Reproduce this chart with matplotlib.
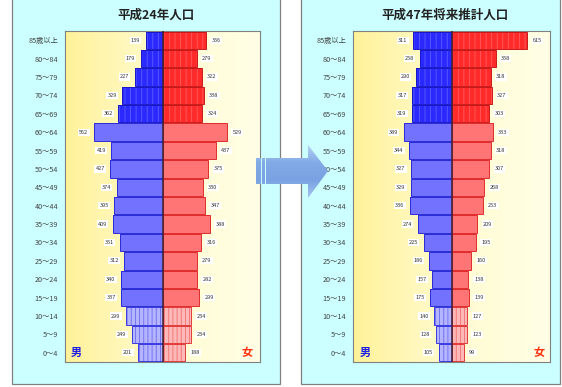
import numpy as np
import matplotlib

matplotlib.use("Agg")
import matplotlib.pyplot as plt
from matplotlib.patches import Rectangle, Polygon
from matplotlib.colors import LinearSegmentedColormap

plt.rcParams["font.family"] = ["Noto Sans CJK JP", "DejaVu Sans"]
plt.rcParams["hatch.linewidth"] = 0.6

# age groups, bottom to top
AGES = ["0～4", "5～9", "10～14", "15～19", "20～24", "25～29", "30～34",
        "35～39", "40～44", "45～49", "50～54", "55～59", "60～64", "65～69",
        "70～74", "75～79", "80～84", "85歳以上"]

MALE_H24 = [201, 249, 299, 337, 340, 312, 351, 409, 395, 374, 427, 419, 562,
            362, 329, 227, 179, 139]
FEMALE_H24 = [188, 234, 234, 299, 282, 279, 316, 388, 347, 330, 375, 437, 529,
              324, 338, 322, 279, 356]

MALE_H47 = [105, 128, 140, 175, 157, 186, 225, 274, 336, 329, 327, 344, 389,
            319, 317, 290, 258, 311]
FEMALE_H47 = [99, 123, 127, 139, 138, 160, 195, 209, 253, 268, 307, 318, 333,
              303, 327, 318, 358, 615]

TITLES = ["平成24年人口", "平成47年将来推計人口"]

W, H = 562, 387


def group_style(i, side):
    """fill, hatch colour, hatch, edge for the age row i."""
    if side == "m":
        if i < 3:
            return "#b4b4ff", "#6a6aee", "||||", "#3a3ae0"
        if i < 13:
            return "#7272ff", None, None, "#2a2ad8"
        return "#2a2aff", "#5c5cff", "|||", "#1818c8"
    if i < 3:
        return "#ffb8b8", "#f07070", "||||", "#e03a3a"
    if i < 13:
        return "#ff7474", None, None, "#e02a2a"
    return "#ff2a2a", "#ff5c5c", "|||", "#c81818"


def pyramid(fig, rect, male, female, title, ticks_x):
    ax = fig.add_axes(rect, zorder=1)
    ax.set_xlim(-800, 800)
    ax.set_ylim(-0.5, len(AGES) - 0.5)
    grad = LinearSegmentedColormap.from_list("bg", ["#fff29a", "#fffbd0", "#ffffe6"])
    ax.imshow(np.linspace(0, 1, 256)[None, :], cmap=grad, aspect="auto",
              extent=(-800, 800, -0.5, len(AGES) - 0.5), zorder=0)
    y = np.arange(len(AGES))
    for i in y:
        for side, val in (("m", -male[i]), ("f", female[i])):
            fill, hcol, hatch, edge = group_style(i, side)
            ax.barh(i, val, height=0.94, color=fill, linewidth=0, zorder=2)
            if hatch:
                ax.barh(i, val, height=0.94, facecolor="none", edgecolor=hcol,
                        hatch=hatch, linewidth=0, zorder=2.5)
            ax.barh(i, val, height=0.94, facecolor="none", edgecolor=edge,
                    linewidth=0.7, zorder=3)
        ax.annotate(str(male[i]), (-male[i], i), xytext=(-4, 0),
                    textcoords="offset points", ha="right", va="center",
                    fontsize=4, color="#333333", zorder=4,
                    bbox=dict(boxstyle="square,pad=0.2", fc="white", ec="none"))
        ax.annotate(str(female[i]), (female[i], i), xytext=(4, 0),
                    textcoords="offset points", ha="left", va="center",
                    fontsize=4, color="#333333", zorder=4,
                    bbox=dict(boxstyle="square,pad=0.2", fc="white", ec="none"))
    ax.axvline(0, color="#402030", linewidth=1.1, zorder=3.5)
    ax.set_yticks(y)
    ax.set_yticklabels(AGES, fontsize=5.2, color="#444444")
    ax.tick_params(axis="y", length=0, pad=5)
    ax.set_xticks([])
    for s in ax.spines.values():
        s.set_color("#808080")
        s.set_linewidth(0.8)
    ax.text(ticks_x[0], 0, "男", color="#2020e0", fontsize=8, fontweight="bold",
            ha="center", va="center", zorder=4)
    ax.text(ticks_x[1], 0, "女", color="#ff3010", fontsize=8, fontweight="bold",
            ha="center", va="center", zorder=4)
    x0, w = rect[0], rect[2]
    fig.text(x0 + w / 2 - 0.012, 1 - 15 / H, title, ha="center", va="center",
             fontsize=9, fontweight="bold", color="#222222")
    return ax


fig = plt.figure(figsize=(W / 100, H / 100), dpi=100)

# panel backgrounds (pixel coordinates, y down)
bg = fig.add_axes([0, 0, 1, 1], zorder=0)
bg.set_xlim(0, W)
bg.set_ylim(H, 0)
bg.axis("off")
bg.add_patch(Rectangle((12, -5), 268, 389, fc="#ccffff", ec="#808080", lw=0.9))
bg.add_patch(Rectangle((301, -5), 259, 389, fc="#ccffff", ec="#808080", lw=0.9))

pyramid(fig, [65 / W, 1 - 362 / H, 195 / W, 331 / H], MALE_H24, FEMALE_H24,
        TITLES[0], (-705, 690))
pyramid(fig, [353 / W, 1 - 362 / H, 197 / W, 331 / H], MALE_H47, FEMALE_H47,
        TITLES[1], (-700, 712))

# arrow between the two panels
top = fig.add_axes([0, 0, 1, 1], zorder=2)
top.set_xlim(0, W)
top.set_ylim(H, 0)
top.axis("off")
top.patch.set_alpha(0)
arrow_cmap = LinearSegmentedColormap.from_list(
    "arr", ["#b4d0f4", "#82aae6", "#7aa2e2", "#a6c4f0"])
shape = [(266, 158), (308, 158), (308, 145), (328, 171), (308, 198),
         (308, 184), (266, 184)]
parts = [shape,
         [(256, 158), (260.5, 158), (260.5, 184), (256, 184)],
         [(261.8, 158), (264.5, 158), (264.5, 184), (261.8, 184)]]
for pts in parts:
    poly = Polygon(pts, closed=True, fc="none", ec="none")
    top.add_patch(poly)
    im = top.imshow(np.linspace(0, 1, 128)[:, None], cmap=arrow_cmap,
                    aspect="auto", extent=(250, 335, 198, 145), zorder=3)
    im.set_clip_path(poly)
top.set_xlim(0, W)
top.set_ylim(H, 0)

fig.savefig("out.png", dpi=100)
